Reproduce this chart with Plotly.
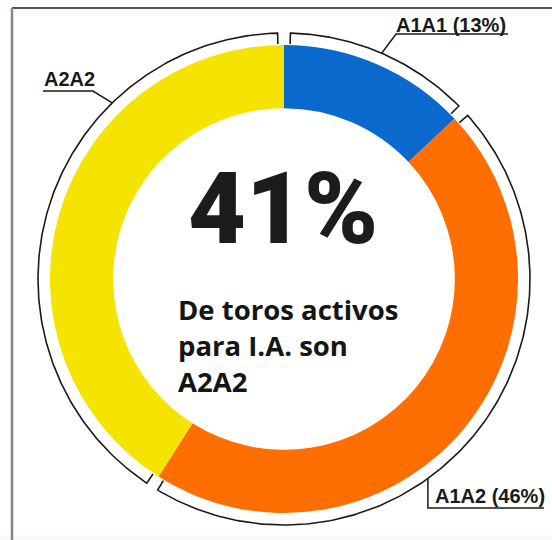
import numpy as np
import plotly.graph_objects as go

# --- data -------------------------------------------------------------
categories = ["A1A1", "A1A2", "A2A2"]
shares = [13, 46, 41]
slice_colors = ["#0A69CD", "#FF6E00", "#F5E300"]
headline_category = "A2A2"
caption_lines = ["De toros activos", "para I.A. son", "A2A2"]

# --- geometry (pixels, y grows downwards) -----------------------------
W, H = 552, 540
CX, CY = 284, 279          # ring centre
R_PIE = 234                # outer radius of the coloured ring
HOLE = 0.73
R_ARC = 246                # bracket arc radius
R_TICK = 235               # where the bracket ends turn in
GAP = 1.5                  # degrees left open at each bracket end
INK = "#1a1a1a"


def polar(theta_deg, r):
    t = np.radians(theta_deg)
    return CX + r * np.cos(t), CY - r * np.sin(t)


fig = go.Figure()

# ring
fig.add_trace(go.Pie(
    labels=categories,
    values=shares,
    marker=dict(colors=slice_colors, line=dict(width=0)),
    hole=HOLE,
    sort=False,
    direction="clockwise",
    rotation=0,
    textinfo="none",
    hoverinfo="label+percent",
    showlegend=False,
    domain=dict(x=[(CX - R_PIE) / W, (CX + R_PIE) / W],
                y=[(H - CY - R_PIE) / H, (H - CY + R_PIE) / H]),
))

# bracket arcs around every slice
total = float(sum(shares))
cum = np.concatenate([[0.0], np.cumsum(shares)]) / total
bounds = 90.0 - 360.0 * cum
for k in range(len(shares)):
    t0 = bounds[k] - GAP
    t1 = bounds[k + 1] + GAP
    ts = np.linspace(t0, t1, 200)
    xs, ys = polar(ts, R_ARC)
    x0, y0 = polar(t0, R_TICK)
    x1, y1 = polar(t1, R_TICK)
    fig.add_trace(go.Scatter(
        x=np.concatenate([[x0], xs, [x1]]),
        y=np.concatenate([[y0], ys, [y1]]),
        mode="lines", line=dict(color=INK, width=1.6),
        hoverinfo="skip", showlegend=False,
    ))

# callout leaders: (angle on bracket, path after the bracket point)
mid_a1a1 = (bounds[0] + bounds[1]) / 2
leaders = [
    (mid_a1a1, [(396, 34), (508, 34)]),
    (134.3, [(93, 91), (43, 91)]),
    (-54.2, [(None, 508), (544, 508)]),
]
for ang, pts in leaders:
    ax, ay = polar(ang, R_ARC)
    px, py = [ax], [ay]
    for x, y in pts:
        px.append(ax if x is None else x)
        py.append(y)
    fig.add_trace(go.Scatter(
        x=px, y=py, mode="lines", line=dict(color=INK, width=1.5),
        hoverinfo="skip", showlegend=False,
    ))

label_font = dict(family="Liberation Sans, Arial, sans-serif", size=20, color=INK)
pct = dict(zip(categories, shares))
callouts = [
    (f"{categories[0]} ({pct[categories[0]]}%)", 394, 25),
    (f"{categories[1]} ({pct[categories[1]]}%)", 433, 496),
    (categories[2], 42, 79),
]
for txt, x, y in callouts:
    fig.add_annotation(x=x, y=y, xref="x", yref="y", text=f"<b>{txt}</b>",
                       showarrow=False, xanchor="left", yanchor="middle",
                       font=label_font)

# centre text
fig.add_annotation(x=283, y=208, xref="x", yref="y",
                   text=f"{pct[headline_category]}%", showarrow=False,
                   xanchor="center", yanchor="middle",
                   font=dict(family="Roboto, sans-serif", size=100,
                             weight=900, color="#1c1c1c"))
fig.add_annotation(x=176, y=345, xref="x", yref="y",
                   text="<br>".join(caption_lines), showarrow=False,
                   xanchor="left", yanchor="middle", align="left",
                   font=dict(family="Open Sans, sans-serif", size=27.5,
                             weight=700, color="#151515"))

# frame
fig.add_shape(type="line", x0=12, y0=8, x1=W, y1=8, xref="x", yref="y",
              line=dict(color="#6b4b50", width=2))
fig.add_shape(type="line", x0=12, y0=8, x1=12, y1=H, xref="x", yref="y",
              line=dict(color="#8a8585", width=2.5))
fig.add_shape(type="rect", x0=0, y0=537, x1=W, y1=H, xref="x", yref="y",
              line=dict(width=0), fillcolor="#fdf5f6", layer="below")

fig.update_xaxes(range=[0, W], visible=False, fixedrange=True)
fig.update_yaxes(range=[H, 0], visible=False, fixedrange=True)
fig.update_layout(width=W, height=H, margin=dict(l=0, r=0, t=0, b=0),
                  paper_bgcolor="white", plot_bgcolor="white",
                  showlegend=False)

fig.write_html("out.html")
